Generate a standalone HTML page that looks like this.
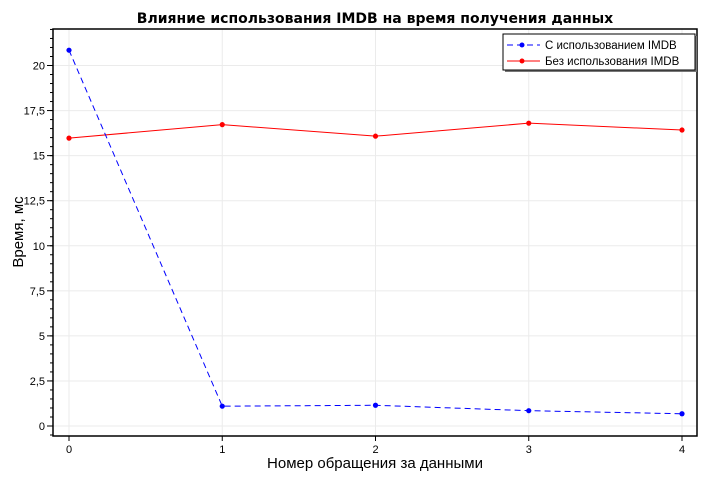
<!DOCTYPE html>
<html><head><meta charset="utf-8"><style>
body{margin:0;background:#fff;font-family:"Liberation Sans","DejaVu Sans",sans-serif}
</style></head><body>
<svg id="c" width="720" height="480" xmlns="http://www.w3.org/2000/svg" font-family="'Liberation Sans','DejaVu Sans',sans-serif">
<text x="375" y="23" text-anchor="middle" font-size="14" font-weight="bold" font-family="'DejaVu Sans',sans-serif">Влияние использования IMDB на время получения данных</text>
<g id="grid"></g><g id="axes"></g><g id="series"></g>
<rect x="53" y="29" width="644" height="407" fill="none" stroke="#000" stroke-width="1.5"/>
<text x="375" y="468" text-anchor="middle" font-size="15">Номер обращения за данными</text>
<text transform="translate(23,232) rotate(-90)" text-anchor="middle" font-size="15">Время, мс</text>
<g>
<rect x="505" y="36" width="192" height="36" fill="#777"/>
<rect x="503" y="34" width="192" height="36" fill="#fff" stroke="#000"/>
<g><line x1="507" y1="45" x2="540" y2="45" stroke="#00f" stroke-dasharray="6,4"/><circle cx="522" cy="45" r="2.5" fill="#00f"/><text x="545" y="49" font-size="11.5">С использованием IMDB</text></g>
<g><line x1="507" y1="61" x2="540" y2="61" stroke="#f00"/><circle cx="522" cy="61" r="2.5" fill="#f00"/><text x="545" y="65" font-size="11.5">Без использования IMDB</text></g>
</g>
</svg>
<script>
const categories=[0,1,2,3,4];
const withImdb=[20.85,1.1,1.15,0.85,0.68];
const withoutImdb=[15.97,16.72,16.08,16.8,16.42];
const yTicks=[0,2.5,5,7.5,10,12.5,15,17.5,20];
const yTickLabels=["0","2,5","5","7,5","10","12,5","15","17,5","20"];
const NS="http://www.w3.org/2000/svg";
const X=v=>69+v*(682-69)/4;
const Y=v=>426-v*(426-65.5)/20;
function mk(t,a,p){const e=document.createElementNS(NS,t);for(const k in a)e.setAttribute(k,a[k]);p.appendChild(e);return e;}
const grid=document.getElementById('grid'),axes=document.getElementById('axes'),ser=document.getElementById('series');
categories.forEach(c=>{
const g=mk('line',{x1:X(c),x2:X(c),y1:29,y2:436,stroke:'#ebebeb'},grid);


mk('line',{x1:X(c),x2:X(c),y1:436,y2:441,stroke:'#000'},axes);
const t=mk('text',{x:X(c),y:453,'text-anchor':'middle','font-size':'11'},axes);t.textContent=c;


});
yTicks.forEach((v,i)=>{
const g=mk('line',{x1:53,x2:697,y1:Y(v),y2:Y(v),stroke:'#ebebeb'},grid);


mk('line',{x1:47,x2:53,y1:Y(v),y2:Y(v),stroke:'#000'},axes);
const t=mk('text',{x:45,y:Y(v)+4,'text-anchor':'end','font-size':'11'},axes);t.textContent=yTickLabels[i];


});
for(let v=-0.5;v<=22;v+=0.5){if(Y(v)>=29&&Y(v)<=436)mk('line',{x1:50,x2:53,y1:Y(v),y2:Y(v),stroke:'#000'},axes);}
function series(vals,col,dash,name){
const p=mk('polyline',{points:vals.map((v,i)=>X(categories[i])+','+Y(v)).join(' '),fill:'none',stroke:col,'stroke-width':1,'stroke-dasharray':dash},ser);


vals.forEach((v,i)=>{const c=mk('circle',{cx:X(categories[i]),cy:Y(v),r:2.6,fill:col},ser);

});
}
series(withoutImdb,'#f00','none','no-imdb');
series(withImdb,'#00f','6,4','imdb');
</script>
</body></html>
